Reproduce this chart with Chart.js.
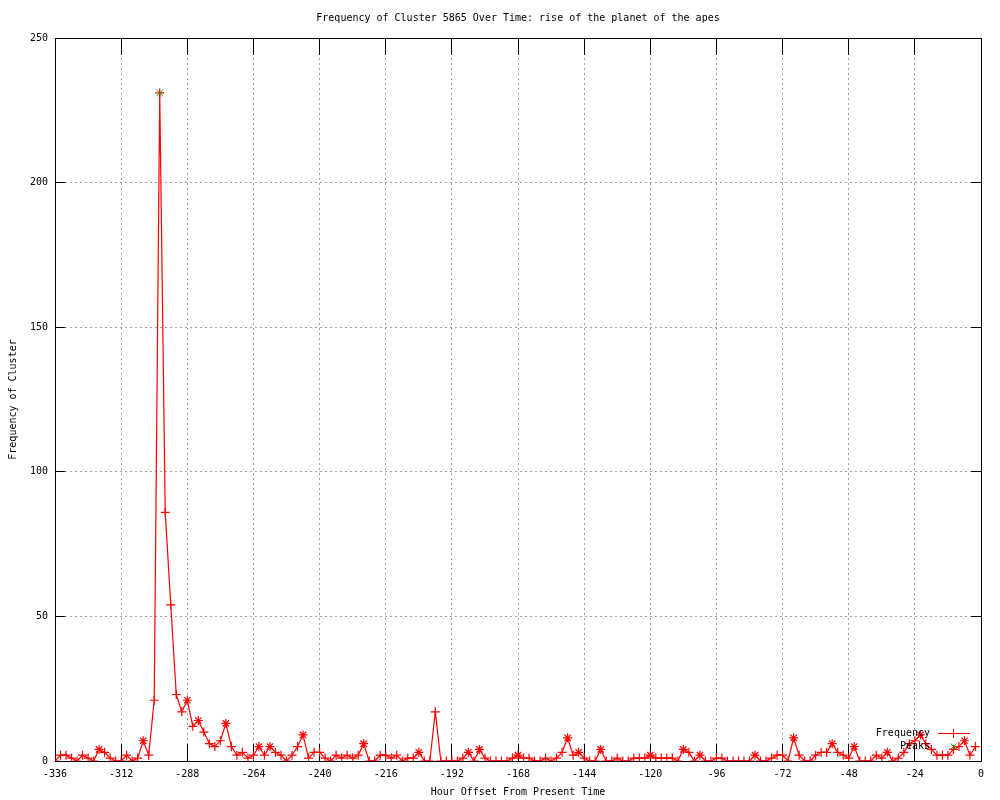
<!DOCTYPE html>
<html>
<head>
<meta charset="utf-8">
<script src="https://cdn.jsdelivr.net/npm/chart.js@4.4.0/dist/chart.umd.min.js"></script>
<style>
  html, body { margin: 0; padding: 0; background: #fff; }
  #wrap { width: 1000px; height: 800px; }
</style>
</head>
<body>
<div id="wrap"><canvas id="myChart" width="1000" height="800"></canvas></div>
<script>
var chartTitle = 'Frequency of Cluster 5865 Over Time: rise of the planet of the apes';
var xLabel = 'Hour Offset From Present Time';
var yLabel = 'Frequency of Cluster';

// counts per 2 hour bin, one row per 24 hours, starting at -336
var frequency = [
  0, 2, 2, 1, 0, 2, 1, 0, 4, 3, 1, 0,
  0, 2, 0, 1, 7, 2, 21, 231, 86, 54, 23, 17,
  21, 12, 14, 10, 6, 5, 7, 13, 5, 2, 3, 1,
  2, 5, 2, 5, 3, 2, 0, 2, 5, 9, 1, 3,
  3, 1, 0, 2, 1, 2, 1, 2, 6, 0, 0, 2,
  2, 1, 2, 0, 1, 1, 3, 0, 0, 17, 0, 0,
  0, 0, 1, 3, 0, 4, 1, 0, 0, 0, 0, 1,
  2, 1, 1, 0, 0, 1, 0, 1, 3, 8, 2, 3,
  1, 0, 0, 4, 0, 0, 1, 0, 0, 1, 1, 1,
  2, 1, 1, 1, 1, 0, 4, 3, 0, 2, 0, 0,
  1, 1, 0, 0, 0, 0, 0, 2, 0, 0, 1, 2,
  2, 0, 8, 2, 0, 0, 2, 3, 3, 6, 3, 2,
  1, 5, 0, 0, 0, 2, 1, 3, 0, 1, 3, 6,
  7, 9, 6, 4, 2, 2, 2, 4, 5, 7, 2, 5
];
var hours = frequency.map(function (v, i) { return -336 + 2 * i; });

var peakHours = [-298];
var peakValues = [231];

// local maxima, marked with a star on the frequency line
var starHours = [-320, -304, -288, -284, -274, -262, -258, -246, -224, -204,
  -186, -182, -168, -150, -146, -138, -120, -108, -102, -82, -68, -54,
  -46, -34, -22, -6];

var xTicks = { min: -336, max: 0, step: 24 };
var yTicks = { min: 0, max: 250, step: 50 };

var freqColor = '#ff0000';
var peakColor = '#00b000';
var fontFamily = '"DejaVu Sans Mono", monospace';
Chart.defaults.font.family = fontFamily;
Chart.defaults.font.size = 10;
Chart.defaults.color = '#000';

function crisp(p) { return Math.round(p - 0.5) + 0.5; }

var frame = {
  id: 'frame',
  beforeDatasetsDraw(chart) {
    var ctx = chart.ctx, a = chart.chartArea, x = chart.scales.x, y = chart.scales.y;
    ctx.save();
    ctx.setLineDash([]);
    ctx.strokeStyle = '#000';
    ctx.lineWidth = 1;
    ctx.beginPath();
    x.ticks.forEach(function (t) {
      var px = crisp(x.getPixelForValue(t.value));
      ctx.moveTo(px, a.bottom); ctx.lineTo(px, a.bottom - 17);
      ctx.moveTo(px, a.top); ctx.lineTo(px, a.top + 17);
    });
    y.ticks.forEach(function (t) {
      var py = crisp(y.getPixelForValue(t.value));
      ctx.moveTo(a.left, py); ctx.lineTo(a.left + 10, py);
      ctx.moveTo(a.right, py); ctx.lineTo(a.right - 10, py);
    });
    ctx.rect(crisp(a.left), crisp(a.top), Math.round(a.right - a.left), Math.round(a.bottom - a.top));
    ctx.stroke();
    ctx.restore();
  },
  afterDatasetsDraw(chart) {
    var ctx = chart.ctx, a = chart.chartArea;
    ctx.save();
    ctx.setLineDash([]);
    ctx.font = '10px ' + fontFamily;
    ctx.fillStyle = '#000';
    ctx.textBaseline = 'middle';
    ctx.textAlign = 'center';
    ctx.fillText(chartTitle, (a.left + a.right) / 2, 18);

    // key, bottom right inside the plot
    ctx.textAlign = 'right';
    var tx = a.right - 51, cx = Math.round(a.right - 28);
    var y1 = Math.round(a.bottom - 28), y2 = Math.round(a.bottom - 15);
    ctx.fillText('Frequency', tx, y1 + 0.5);
    ctx.fillText('Peaks', tx, y2 + 0.5);
    ctx.fillStyle = freqColor;
    ctx.fillRect(Math.round(a.right - 43), y1, 32, 1);
    ctx.fillRect(cx, y1 - 4, 1, 9);
    ctx.strokeStyle = peakColor;
    ctx.lineWidth = 1;
    ctx.beginPath();
    ctx.moveTo(cx + 0.5 - 3, y2 + 0.5 - 3); ctx.lineTo(cx + 0.5 + 3, y2 + 0.5 + 3);
    ctx.moveTo(cx + 0.5 - 3, y2 + 0.5 + 3); ctx.lineTo(cx + 0.5 + 3, y2 + 0.5 - 3);
    ctx.stroke();
    ctx.restore();
  }
};

var ctx = document.getElementById('myChart').getContext('2d');

var chart = new Chart(ctx, {
  type: 'line',
  data: {
    datasets: [
      {
        label: 'Peaks',
        data: peakHours.map(function (h, i) { return { x: h, y: peakValues[i] }; }),
        showLine: false,
        borderColor: peakColor,
        backgroundColor: peakColor,
        pointStyle: 'crossRot',
        pointRadius: 4.5,
        pointBorderWidth: 1,
        order: 0
      },
      {
        label: 'Frequency',
        data: hours.map(function (h, i) { return { x: h, y: frequency[i] }; }),
        borderColor: freqColor,
        backgroundColor: freqColor,
        borderWidth: 1.2,
        tension: 0,
        fill: false,
        pointStyle: function (c) { return starHours.indexOf(hours[c.dataIndex]) >= 0 ? 'star' : 'cross'; },
        pointRadius: 4.5,
        pointBorderWidth: 1.2,
        order: 1
      }
    ]
  },
  options: {
    responsive: false,
    devicePixelRatio: 1,
    animation: false,
    events: [],
    layout: { padding: { top: 38, right: 19, left: 0, bottom: 0 } },
    plugins: {
      legend: { display: false },
      title: { display: false },
      tooltip: { enabled: false }
    },
    scales: {
      x: {
        type: 'linear',
        min: xTicks.min,
        max: xTicks.max,
        ticks: { stepSize: xTicks.step, padding: 7, maxRotation: 0, autoSkip: false },
        grid: { color: '#a0a0a0', drawTicks: false, lineWidth: 1 },
        border: { display: false, dash: [2, 3] },
        title: { display: true, text: xLabel, padding: { top: 0, bottom: 2 } },
        afterFit(s) { s.height = 39; }
      },
      y: {
        type: 'linear',
        min: yTicks.min,
        max: yTicks.max,
        ticks: { stepSize: yTicks.step, padding: 7 },
        grid: { color: '#a0a0a0', drawTicks: false, lineWidth: 1 },
        border: { display: false, dash: [2, 3] },
        title: { display: true, text: yLabel, padding: { top: 7, bottom: 0 } },
        afterFit(s) { s.width = 55; }
      }
    }
  },
  plugins: [frame]
});
</script>
</body>
</html>
